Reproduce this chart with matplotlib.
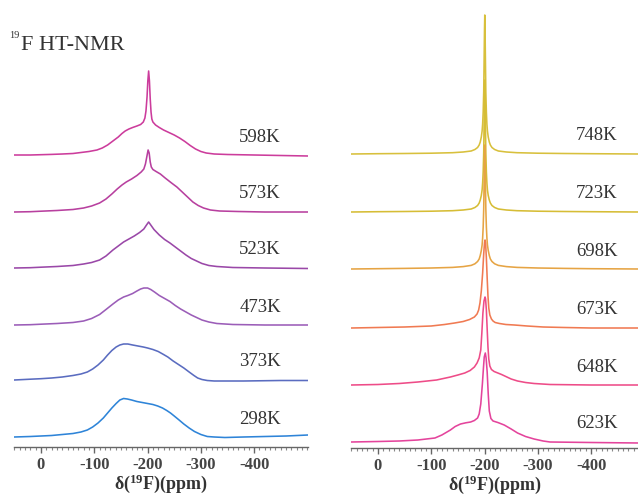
import matplotlib
matplotlib.use("Agg")
import matplotlib.pyplot as plt
from matplotlib.ticker import MultipleLocator, FixedLocator

plt.rcParams['font.family'] = ['Liberation Serif', 'DejaVu Serif']
plt.rcParams['mathtext.fontset'] = 'custom'
plt.rcParams['mathtext.rm'] = 'Liberation Serif'
plt.rcParams['mathtext.bf'] = 'Liberation Serif:bold'
plt.rcParams['mathtext.it'] = 'Liberation Serif:italic'

# ---------------- data (ppm, intensity in arbitrary units) ----------------
# Left panel
L598_ppm = [50, 20, 0, -20, -40, -60, -75, -90, -105, -115, -125, -135, -145, -152, -158, -165, -172, -180, -187, -192, -195, -197, -199, -200.5, -202, -203.5, -205, -206.5, -208, -210, -215, -222, -230, -240, -250, -260, -270, -280, -290, -300, -310, -325, -350, -400, -450, -501]
L598_int = [0, 0, 0.3, 0.6, 1, 1.5, 2.5, 3.5, 5, 7, 10, 14, 18, 21.5, 24, 26, 27.5, 29, 30.5, 33, 37, 44, 58, 74, 84, 74, 56, 43, 36, 33, 30, 27.5, 25, 22.5, 20, 17, 13.5, 9.5, 6, 3.5, 2, 1, 0.5, 0, -0.5, -1]

L573_ppm = [50, 20, 0, -30, -60, -80, -95, -110, -122, -133, -143, -152, -160, -170, -180, -188, -193, -196, -198.5, -201, -203, -205, -207, -210, -216, -224, -233, -245, -255, -265, -275, -285, -295, -305, -318, -335, -370, -420, -501]
L573_int = [0, 0.3, 0.8, 1.5, 2.5, 4, 6, 9, 13, 18, 23, 27, 30, 33, 36.5, 40, 43, 48, 55, 62, 59, 50, 45, 42.5, 40.5, 38, 34, 29, 25, 20, 15, 10, 6.5, 4, 2, 1, 0.5, 0, 0]

L523_ppm = [50, 20, 0, -30, -60, -80, -95, -110, -122, -135, -145, -155, -165, -175, -185, -193, -198, -202, -206, -212, -222, -232, -242, -252, -262, -272, -282, -292, -302, -315, -330, -360, -420, -501]
L523_int = [0, 0.3, 0.8, 1.5, 2.5, 4, 5.5, 8, 12, 18, 22, 26, 29, 32, 35.5, 39, 43, 46, 43, 38.5, 33, 28.5, 25, 21, 17, 13, 9.5, 7, 4.5, 2.5, 1.5, 0.5, 0, -0.5]

L473_ppm = [50, 20, 0, -30, -60, -80, -95, -110, -122, -135, -145, -155, -163, -172, -180, -187, -193, -200, -206, -213, -222, -232, -242, -252, -262, -272, -282, -292, -302, -315, -330, -360, -420, -501]
L473_int = [0, 0.3, 0.8, 1.5, 2.5, 4, 6.5, 10.5, 15.5, 21, 25, 28, 29.5, 31.5, 34, 36, 37, 37, 35.5, 33, 29.5, 26.5, 23.5, 19.5, 16, 13, 10, 7.5, 5, 3, 1.5, 0.5, 0, 0]

L373_ppm = [50, 20, 0, -20, -40, -60, -75, -87, -97, -107, -117, -125, -133, -141, -148, -155, -163, -172, -182, -192, -200, -210, -220, -230, -238, -248, -258, -268, -278, -287, -294, -302, -312, -325, -380, -450, -501]
L373_int = [0, 0.8, 1.3, 2, 3, 4.5, 6, 8, 11, 15, 20, 25, 29.5, 33, 35, 36, 36, 35, 34, 33, 32, 30.5, 28.5, 25.5, 23, 19, 15.5, 12, 8, 4.5, 2, 0.5, -0.5, -1, -1, -0.5, -0.5]

L298_ppm = [50, 20, 0, -20, -40, -60, -75, -87, -97, -107, -117, -125, -133, -141, -148, -155, -162, -170, -180, -190, -200, -210, -219, -228, -236, -243, -250, -258, -268, -278, -288, -300, -312, -325, -345, -380, -420, -460, -501]
L298_int = [0, 0.5, 1, 1.5, 2.5, 3.5, 5, 7, 10, 14, 19, 24, 29, 33.5, 37, 38.5, 38, 37, 35.5, 34.5, 33.5, 32.5, 31, 29, 26.5, 24, 21, 17.5, 13, 9, 5.5, 2.5, 0.5, 0, -0.5, 0, 0.5, 1, 2]

# Right panel
R748_ppm = [50, 0, -50, -100, -140, -160, -175, -182, -187, -190, -192, -194, -195.5, -196.5, -197.5, -198.5, -199.3, -200, -200.5, -201, -201.7, -202.5, -203.5, -204.5, -205.5, -207, -209, -211, -214, -219, -226, -241, -261, -300, -350, -400, -490]
R748_int = [0, 0.3, 0.5, 0.8, 1.3, 2, 3, 4.5, 6.5, 9, 12, 17, 23, 30, 42, 62, 95, 125, 139, 125, 95, 62, 42, 30, 23, 17, 12, 9, 6.5, 4.5, 3, 2, 1.3, 0.8, 0.5, 0.3, 0]

R723_ppm = [50, 0, -50, -100, -140, -160, -175, -182, -187, -190, -192, -194, -195.5, -196.5, -197.5, -198.5, -199.3, -200, -200.5, -201, -201.7, -202.5, -203.5, -204.5, -205.5, -207, -209, -211, -214, -219, -226, -241, -261, -300, -350, -400, -490]
R723_int = [0, 0.3, 0.5, 0.8, 1.3, 2, 3, 4.5, 6.5, 9, 12, 16.5, 22, 29, 40, 59, 90, 119, 132, 119, 90, 59, 40, 29, 22, 16.5, 12, 9, 6.5, 4.5, 3, 2, 1.3, 0.8, 0.5, 0.3, 0]

R698_ppm = [50, 0, -50, -100, -140, -160, -175, -182, -187, -190, -192, -194, -195.5, -196.5, -197.5, -198.5, -199.3, -200, -200.5, -201, -201.7, -202.5, -203.5, -204.5, -205.5, -207, -209, -211, -214, -219, -226, -241, -261, -300, -350, -400, -490]
R698_int = [0, 0.3, 0.6, 1, 1.6, 2.4, 3.6, 5.2, 7.5, 10, 13.5, 18.5, 24, 31, 42, 60, 88, 113, 124, 113, 88, 60, 42, 31, 24, 18.5, 13.5, 10, 7.5, 5.2, 3.6, 2.4, 1.6, 1, 0.6, 0.3, 0]

R673_ppm = [50, 0, -50, -100, -125, -144, -160, -172, -181, -186, -189, -191.5, -194, -196.5, -198.5, -200, -201, -202, -203.5, -205, -206.5, -208, -210, -213, -216, -220, -228, -240, -256, -280, -310, -350, -400, -490]
R673_int = [0, 0.5, 1, 2, 3.5, 5, 6.5, 8.5, 11, 14, 18, 25, 37, 55, 74, 85, 88, 85, 70, 50, 32, 20, 13, 9, 7, 5.5, 4.5, 3.5, 3, 2, 1, 0.5, 0, 0]

R648_ppm = [50, 0, -40, -75, -110, -136, -150, -163, -173, -181, -186, -190, -193, -195, -197, -199, -201, -202, -203.5, -205, -206.5, -208, -210, -213, -218, -225, -232, -240, -250, -262, -277, -293, -323, -400, -490]
R648_int = [0, 0.5, 1.5, 3, 5, 8, 10, 12, 14.5, 18, 22, 27, 35, 52, 72, 84, 88, 86, 75, 56, 38, 26, 19, 15.5, 13.5, 12, 10.5, 8.5, 6, 4, 2.5, 1.5, 0.5, 0, 0]

R623_ppm = [50, 0, -40, -75, -107, -120, -136, -145, -155, -165, -174, -181, -187, -190, -193, -196, -198, -199.5, -201.5, -203, -205, -207, -209, -212, -216, -225, -237, -250, -262, -277, -293, -310, -323, -400, -490]
R623_int = [0, 0.5, 1, 2, 4, 7, 12, 15.5, 18, 19.2, 20, 21.5, 24, 28, 38, 58, 74, 85, 89, 84, 70, 48, 31, 23.5, 21, 19.5, 17, 13, 9, 5.5, 3, 1, 0, -0.5, -1]

left_labels = ['598K', '573K', '523K', '473K', '373K', '298K']
left_offsets = [292, 235, 179, 122, 67, 10]
left_colors = ['#cc3c9c', '#b8409f', '#9a48a8', '#9b5db8', '#5a6cc0', '#2e84d8']
left_series = [(L598_ppm, L598_int), (L573_ppm, L573_int), (L523_ppm, L523_int),
               (L473_ppm, L473_int), (L373_ppm, L373_int), (L298_ppm, L298_int)]

right_labels = ['748K', '723K', '698K', '673K', '648K', '623K']
right_offsets = [294, 236, 179, 120, 63, 6]
right_colors = ['#d8c03c', '#d6bd36', '#e6a444', '#f07a52', '#ee4c88', '#e4449c']
right_series = [(R748_ppm, R748_int), (R723_ppm, R723_int), (R698_ppm, R698_int),
                (R673_ppm, R673_int), (R648_ppm, R648_int), (R623_ppm, R623_int)]

major_ticks = [0, -100, -200, -300, -400]
tick_labels = ['0', '-100', '-200', '-300', '-400']
xlabel_text = r'$\mathbf{δ(^{19}F)(ppm)}$'

W, H = 638, 497
fig = plt.figure(figsize=(W / 100, H / 100), dpi=100)


def make_axes(x0, x1, ybot, xlim, series, labels, offsets, colors, label_ppm):
    ax = fig.add_axes([x0 / W, (H - ybot) / H, (x1 - x0) / W, ybot / H])
    ax.set_xlim(*xlim)
    ax.set_ylim(0, ybot)
    for (p, v), lab, off, col in zip(series, labels, offsets, colors):
        ax.plot(p, [val + off for val in v], color=col, lw=1.15,
                solid_joinstyle='round', antialiased=True)
        ax.text(label_ppm, off + 18, lab, fontsize=13.5, color='#333333',
                va='center', ha='left')
    for s in ['top', 'right', 'left']:
        ax.spines[s].set_visible(False)
    ax.spines['bottom'].set_color('#666666')
    ax.spines['bottom'].set_linewidth(1.0)
    ax.set_yticks([])
    ax.xaxis.set_major_locator(FixedLocator(major_ticks))
    ax.set_xticklabels(tick_labels)
    ax.xaxis.set_minor_locator(MultipleLocator(10))
    ax.tick_params(axis='x', which='major', direction='out', length=4, width=1.0,
                   color='#666666', labelsize=12, labelcolor='#444444', pad=3)
    ax.tick_params(axis='x', which='minor', direction='out', length=2, width=0.8,
                   color='#888888')
    for t in ax.get_xticklabels():
        t.set_fontweight('bold')
    ax.set_xlabel(xlabel_text, fontsize=13, color='#333333', labelpad=0)
    ax.patch.set_alpha(0)
    return ax


axL = make_axes(14, 308, 447, (50.6, -501), left_series, left_labels, left_offsets,
                left_colors, -372)
axR = make_axes(351, 638, 448, (50.5, -488), right_series, right_labels, right_offsets,
                right_colors, -372)

# Title
fig.text(9 / W, 1 - 38 / H, '19', fontsize=7.5, color='#333333', va='baseline', ha='left')
fig.text(21 / W, 1 - 50 / H, 'F HT-NMR', fontsize=16, color='#333333', va='baseline', ha='left')

fig.savefig('out.png', dpi=100)
